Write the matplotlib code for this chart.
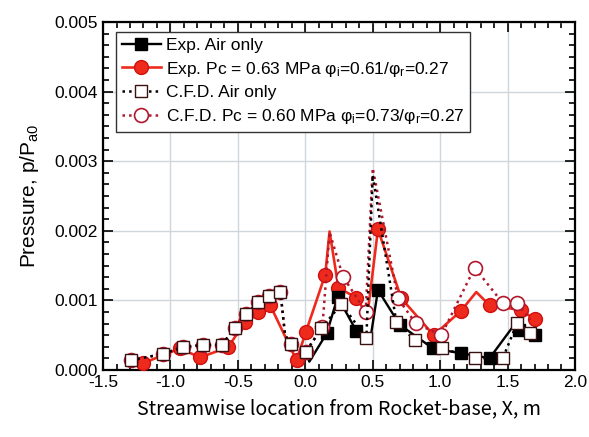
import matplotlib
matplotlib.use("Agg")
import matplotlib.pyplot as plt
from matplotlib.ticker import MultipleLocator, AutoMinorLocator, FormatStrFormatter

plt.rcParams['font.family'] = ['Liberation Sans', 'DejaVu Sans']
plt.rcParams['mathtext.fontset'] = 'custom'
plt.rcParams['mathtext.rm'] = 'Liberation Sans'
plt.rcParams['mathtext.it'] = 'Liberation Sans:italic'
plt.rcParams['axes.unicode_minus'] = True

# ---- data ----
exp_air_x = [0.004, 0.03, 0.16, 0.24, 0.379, 0.478, 0.539, 0.70, 0.947, 1.157, 1.367, 1.55, 1.584, 1.70]
exp_air_y = [0.00026, 0.00012, 0.00053, 0.00105, 0.00056, 0.00039, 0.00115, 0.00065, 0.00031, 0.00024, 0.00017, 0.00065, 0.00058, 0.00050]
exp_air_nomark = [0, 1, 5, 11]

exp_pc_x = [-1.20, -0.93, -0.78, -0.57, -0.45, -0.35, -0.26, -0.065, 0.005, 0.148, 0.18, 0.246, 0.379, 0.46, 0.539, 0.712, 0.952, 1.155, 1.268, 1.367, 1.601, 1.70]
exp_pc_y = [0.00010, 0.00031, 0.00018, 0.00033, 0.00069, 0.00084, 0.00093, 0.00014, 0.00055, 0.00137, 0.00199, 0.00118, 0.00104, 0.00078, 0.00202, 0.00103, 0.00050, 0.00085, 0.00112, 0.00093, 0.00086, 0.00073]
exp_pc_nomark = [10, 13, 18]

cfd_air_x = [-1.293, -1.058, -0.905, -0.757, -0.621, -0.522, -0.436, -0.35, -0.268, -0.184, -0.15, -0.107, 0.004, 0.12, 0.268, 0.453, 0.50, 0.675, 0.811, 1.016, 1.256, 1.465, 1.572, 1.663]
cfd_air_y = [0.00014, 0.00023, 0.00033, 0.00036, 0.00036, 0.00060, 0.00081, 0.00097, 0.00107, 0.00112, 0.00050, 0.00038, 0.00026, 0.00060, 0.00095, 0.00046, 0.00280, 0.00069, 0.00043, 0.00031, 0.00017, 0.00017, 0.00068, 0.00053]
cfd_air_nomark = [10, 16]

cfd_pc_x = [-1.293, -1.058, -0.905, -0.757, -0.621, -0.522, -0.436, -0.35, -0.268, -0.184, -0.15, -0.107, 0.004, 0.127, 0.18, 0.28, 0.448, 0.50, 0.687, 0.819, 1.009, 1.256, 1.465, 1.572, 1.67]
cfd_pc_y = [0.00014, 0.00023, 0.00033, 0.00036, 0.00036, 0.00060, 0.00081, 0.00097, 0.00107, 0.00112, 0.00050, 0.00038, 0.00026, 0.00062, 0.00198, 0.00134, 0.00084, 0.00290, 0.00103, 0.00067, 0.00050, 0.00147, 0.00096, 0.00096, 0.00072]
cfd_pc_nomark = [10, 14, 17, 24]

labels = ["Exp. Air only",
          "Exp. Pc = 0.63 MPa φ$_\\mathregular{i}$=0.61/φ$_\\mathregular{r}$=0.27",
          "C.F.D. Air only",
          "C.F.D. Pc = 0.60 MPa φ$_\\mathregular{i}$=0.73/φ$_\\mathregular{r}$=0.27"]

def marks(n, nomark):
    return [i for i in range(n) if i not in nomark]

fig = plt.figure(figsize=(5.89, 4.37), dpi=100)
ax = fig.add_axes([0.1749, 0.1533, 0.8013, 0.7964])

RED = '#ee2a1c'
DRED = '#b0182c'

l2, = ax.plot(exp_pc_x, exp_pc_y, '-', color=RED, lw=1.9, marker='o', ms=10,
              mfc=RED, mec='#d01010', markevery=marks(len(exp_pc_x), exp_pc_nomark), zorder=3)
l1, = ax.plot(exp_air_x, exp_air_y, '-', color='black', lw=1.7, marker='s', ms=8,
              mfc='black', mec='black', markevery=marks(len(exp_air_x), exp_air_nomark), zorder=4)
l4, = ax.plot(cfd_pc_x, cfd_pc_y, ':', color=DRED, lw=1.8, marker='o', ms=10,
              mfc='white', mec=DRED, mew=1.2, markevery=marks(len(cfd_pc_x), cfd_pc_nomark), zorder=5)
l3, = ax.plot(cfd_air_x, cfd_air_y, ':', color='black', lw=1.8, marker='s', ms=8.5,
              mfc='white', mec='#3a1010', mew=1.0, markevery=marks(len(cfd_air_x), cfd_air_nomark), zorder=6)

ax.set_xlim(-1.5, 2.0)
ax.set_ylim(0.0, 0.005)
ax.xaxis.set_major_locator(MultipleLocator(0.5))
ax.xaxis.set_minor_locator(MultipleLocator(0.1))
ax.yaxis.set_major_locator(MultipleLocator(0.001))
ax.yaxis.set_minor_locator(AutoMinorLocator(6))
ax.xaxis.set_major_formatter(FormatStrFormatter('%.1f'))
ax.yaxis.set_major_formatter(FormatStrFormatter('%.3f'))
ax.tick_params(which='both', direction='in', top=True, right=True, labelsize=12.5, width=1.2)
ax.tick_params(which='major', length=7)
ax.tick_params(which='minor', length=4)
ax.grid(True, which='major', color='#cfd6dc', lw=1.0)
ax.set_axisbelow(True)
for s in ax.spines.values():
    s.set_linewidth(1.6)

ax.set_xlabel("Streamwise location from Rocket-base, X, m", fontsize=14.2,
              family=['Noto Sans CJK JP', 'DejaVu Sans'], labelpad=6)
ax.set_ylabel("Pressure, p/P$_\\mathregular{a0}$", fontsize=15, labelpad=10)

leg = ax.legend([l1, l2, l3, l4], labels, loc='upper left', bbox_to_anchor=(0.028, 0.972),
                fontsize=12.5, frameon=True, fancybox=False, edgecolor='#333333',
                framealpha=1, handlelength=2.2, handletextpad=0.3, borderpad=0.35,
                labelspacing=0.38, borderaxespad=0.0)
leg.get_frame().set_linewidth(1.0)

fig.savefig("out.png", dpi=100)
